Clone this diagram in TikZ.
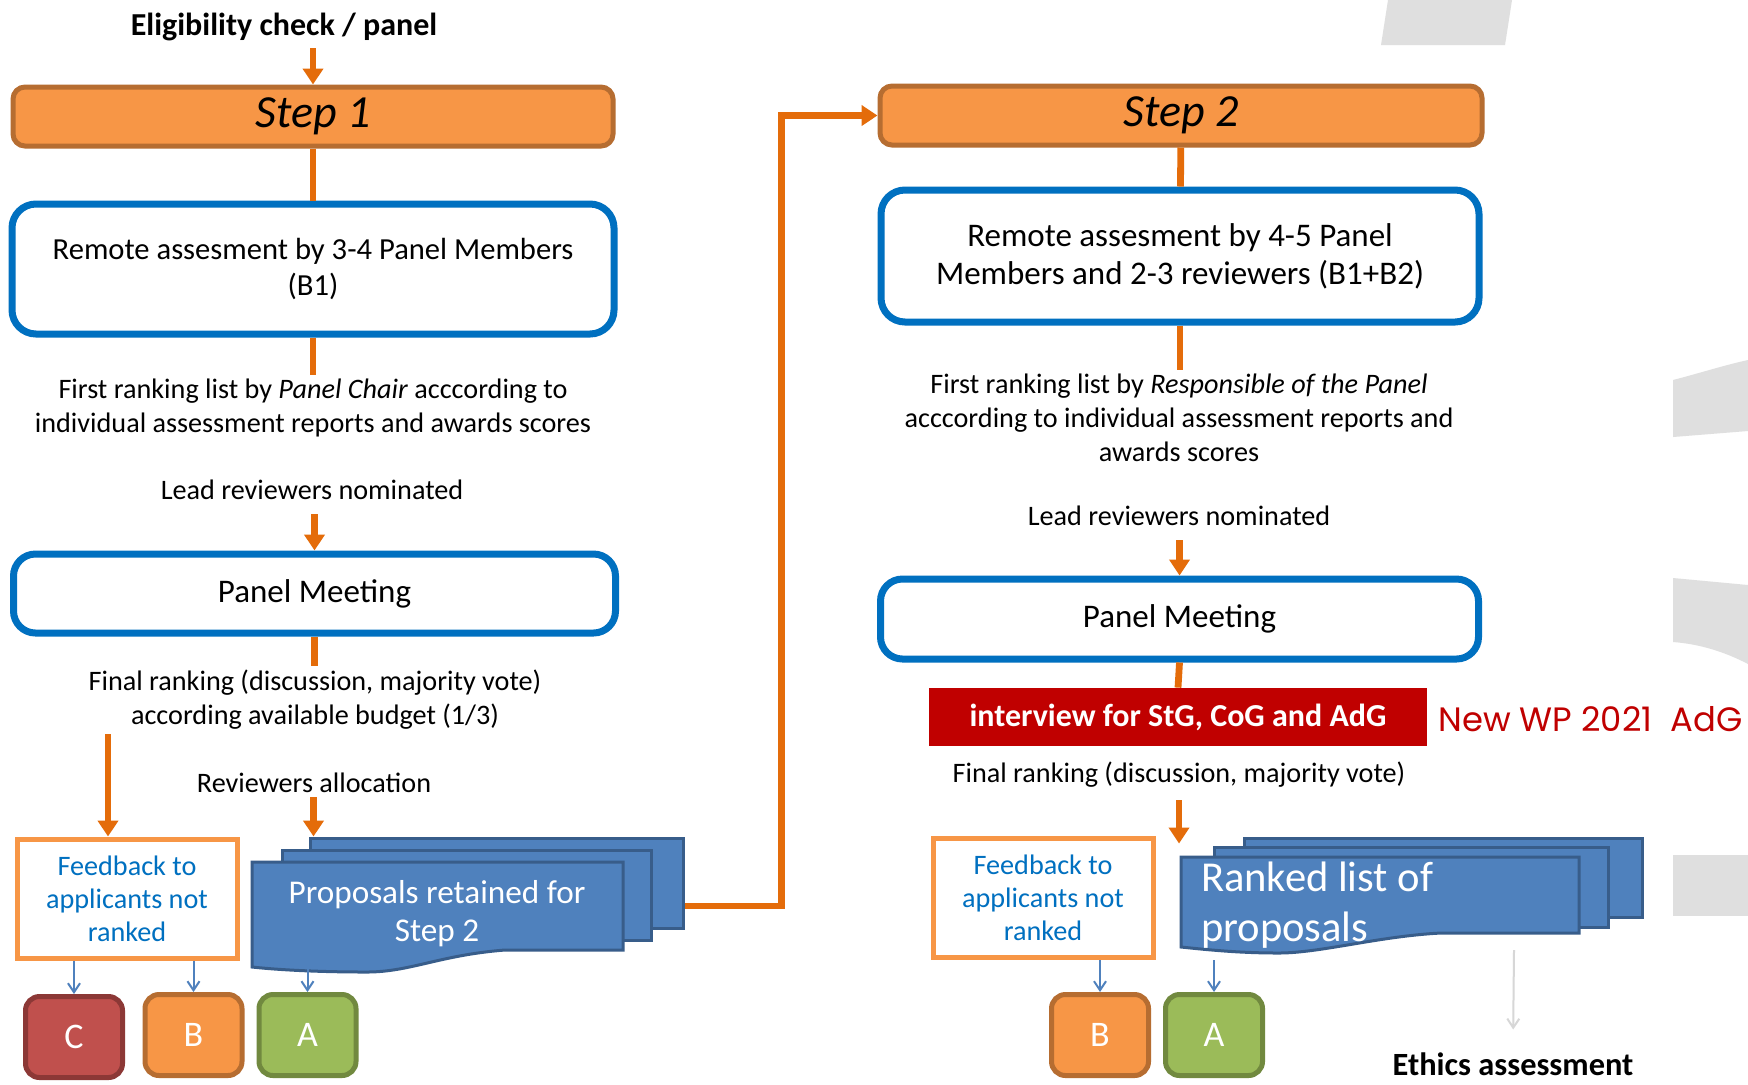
\documentclass[tikz,border=0pt]{standalone}
\usepackage{fontspec}
\setmainfont{Carlito}
\newfontfamily\wpfont{Poppins}
\usepackage{tikz}
\usetikzlibrary{positioning, arrows.meta}

\definecolor{linkorange}{HTML}{E46C0A}
\definecolor{steporange}{HTML}{F79646}
\definecolor{stepedge}{HTML}{B66D31}
\definecolor{boxblue}{HTML}{0070C0}
\definecolor{layerblue}{HTML}{4F81BD}
\definecolor{layeredge}{HTML}{385D8A}
\definecolor{arrowblue}{HTML}{4F81BD}
\definecolor{gradeC}{HTML}{C0504D}
\definecolor{gradeCedge}{HTML}{8C3836}
\definecolor{gradeA}{HTML}{9BBB59}
\definecolor{gradeAedge}{HTML}{71893F}
\definecolor{newred}{HTML}{C00000}
\definecolor{bggrey}{RGB}{223,223,223}
\definecolor{ethicsgrey}{RGB}{215,215,215}

\begin{document}
\begin{tikzpicture}[
    x=0.5pt, y=-0.5pt,
    every node/.style={font=\fontsize{14.1}{17}\selectfont},
    stepbox/.style={rectangle, draw=stepedge, fill=steporange, line width=2.5pt, rounded corners=6pt, minimum width=300pt, minimum height=29.5pt, font=\fontsize{23}{26}\selectfont\itshape},
    block/.style={rectangle, draw=boxblue, line width=3.5pt, rounded corners=12pt, align=center, minimum width=301pt},
    note/.style={align=center, inner sep=2pt},
    feedback/.style={rectangle, draw=steporange, fill=white, line width=2.5pt, align=center, text=boxblue, minimum width=110pt, minimum height=59.5pt, inner sep=1pt, font=\fontsize{14.1}{16.5}\selectfont},
    grade/.style={rectangle, rounded corners=7pt, line width=2.5pt, minimum width=48.5pt, minimum height=40.5pt, text=white, font=\fontsize{18}{20}\selectfont},
    layer/.style={draw=layeredge, fill=layerblue, line width=1.5pt},
    stacktext/.style={text=white, align=center, font=\fontsize{16.6}{19}\selectfont},
    arrow/.style={-{Triangle[width=10pt,length=8pt]}, draw=linkorange, line width=3.4pt},
    link/.style={draw=linkorange, line width=3.4pt},
    thinarrow/.style={-{Straight Barb[width=6pt,length=4.5pt]}, draw=arrowblue, line width=1pt}
]
\useasboundingbox (0,0) rectangle (1748,1084);
\fill[white] (0,0) rectangle (1748,1084);

% grey shapes behind
\fill[bggrey] (1388,0) -- (1512,0) -- (1505,45) -- (1381,45) -- cycle;
\fill[bggrey] (1673,380) .. controls (1700,373) and (1725,365) .. (1748,360) -- (1748,431) -- (1673,437) -- cycle;
\fill[bggrey] (1673,578) -- (1748,585) -- (1748,664) .. controls (1725,652) and (1700,644) .. (1673,642) -- cycle;
\fill[bggrey] (1673,855) rectangle (1748,916);

% Step 1
\node[font=\fontsize{16}{19}\selectfont\bfseries] (elig) at (284,27) {Eligibility check / panel};
\node[stepbox] (step1) at (313,116.5) {Step 1};
\node[block, minimum height=65pt, font=\fontsize{15.3}{17.8}\selectfont] (b1) at (313,269) {Remote assesment by 3-4 Panel Members\\(B1)};
\node[note] (rank1) at (313,408) {First ranking list by \textit{Panel Chair} acccording to\\individual assessment reports and awards scores};
\node[note] (lead1) at (312,490) {Lead reviewers nominated};
\node[block, minimum height=39.5pt, rounded corners=11pt, font=\fontsize{16.5}{19}\selectfont] (pm1) at (314.5,593.5) {Panel Meeting};
\node[note] (final1) at (315,700) {Final ranking (discussion, majority vote)\\according available budget (1/3)};
\node[note] (reviewers) at (314,783) {Reviewers allocation};
\node[feedback] (fb1) at (127,898.5) {Feedback to\\applicants not\\ranked};

% stack 1
\node[layer, minimum width=186.5pt, minimum height=45pt] (back1) at (496.5,883) {};
\node[layer, minimum width=184.5pt, minimum height=45pt] (mid1) at (466.5,895) {};
\draw[layer] (252,862) -- (623,862) -- (623,950) -- (505,950) .. controls (440,955) and (410,972) .. (367,972) .. controls (320,972) and (280,970) .. (252,967) -- cycle;
\node[stacktext] (front1) at (437,914) {Proposals retained for\\Step 2};

\node[grade, fill=gradeC, draw=gradeCedge] (C) at (74,1037) {C};
\node[grade, fill=steporange, draw=stepedge] (B) at (193.5,1035) {B};
\node[grade, fill=gradeA, draw=gradeAedge] (A) at (307.5,1035) {A};

% Step 2
\node[stepbox, minimum width=301pt] (step2) at (1181,115.5) {Step 2};
\node[block, minimum width=299pt, minimum height=66pt, font=\fontsize{16.5}{19}\selectfont] (b2) at (1180,256) {Remote assesment by 4-5 Panel\\Members and 2-3 reviewers (B1+B2)};
\node[note] (rank2) at (1179,418) {First ranking list by \textit{Responsible of the Panel}\\acccording to individual assessment reports and\\awards scores};
\node[note] (lead2) at (1179,516) {Lead reviewers nominated};
\node[block, minimum width=299pt, minimum height=40pt, rounded corners=11pt, font=\fontsize{16.5}{19}\selectfont] (pm2) at (1179.5,619) {Panel Meeting};
\node[rectangle, fill=newred, text=white, minimum width=249pt, minimum height=29pt, font=\fontsize{16}{19}\selectfont\bfseries] (interview) at (1178,717) {interview for StG, CoG and AdG};
\node[anchor=west, text=newred, inner sep=0pt, font=\wpfont\fontsize{16.9}{19}\selectfont] (newwp) at (1438,719) {New WP 2021\ \ AdG};
\node[note] (final2) at (1179,775) {Final ranking (discussion, majority vote)};
\node[feedback] (fb2) at (1043,898) {Feedback to\\applicants not\\ranked};

% stack 2
\node[layer, minimum width=199pt, minimum height=39.5pt] (back2) at (1443,877.5) {};
\node[layer, minimum width=197pt, minimum height=40pt] (mid2) at (1411,887) {};
\draw[layer] (1181,857) -- (1579,857) -- (1579,933) -- (1441,933) .. controls (1380,936) and (1320,953) .. (1279,953) .. controls (1240,953) and (1210,950) .. (1181,947) -- cycle;
\node[anchor=west, text=white, align=left, font=\fontsize{21.3}{25}\selectfont] (front2) at (1194,905) {Ranked list of\\proposals};

\node[grade, fill=steporange, draw=stepedge] (B2) at (1100,1035) {B};
\node[grade, fill=gradeA, draw=gradeAedge] (A2) at (1214,1035) {A};

\node[font=\fontsize{16.2}{19}\selectfont\bfseries] (ethics) at (1513,1064) {Ethics assessment};
\coordinate (ethicsin) at (1514,950);

% Arrows step 1
\draw[arrow] (step1.north |- elig.south) -- (step1.north);
\draw[link] (step1) -- (b1);
\draw[link] (b1.south) -- (b1.south |- rank1.north);
\draw[arrow, shorten <=5pt] (lead1.south -| pm1.north) -- (pm1.north);
\draw[link] (pm1.south) -- (pm1.south |- final1.north);
\draw[arrow] ([xshift=-9.5pt]fb1.north |- final1.south) -- ([xshift=-9.5pt]fb1.north);
\draw[arrow] (reviewers.south -| back1.north west) ++(2.5pt,0) -- ([xshift=2.5pt]back1.north west);
\draw[arrow] ([yshift=-11.5pt]back1.east) -- ++(97,0) |- (step2.west);
\draw[thinarrow] (C.north |- fb1.south) -- (C.north);
\draw[thinarrow] (B.north |- fb1.south) -- (B.north);
\draw[thinarrow] (A.north |- fb1.south) -- (A.north);

% Arrows step 2
\draw[link] (step2) -- (b2);
\draw[link] (b2.south) -- (b2.south |- rank2.north);
\draw[arrow, shorten <=5pt] (lead2.south -| pm2.north) -- (pm2.north);
\draw[link] (pm2.south) -- (interview.north);
\draw[arrow, shorten <=4pt] (final2.south) -- ([yshift=-3.5pt]final2.south |- back2.north);
\draw[thinarrow] (B2.north |- fb2.south) -- (B2.north);
\draw[thinarrow] (A2.north |- fb2.south) -- (A2.north);
\draw[thinarrow, draw=ethicsgrey, shorten >=8pt] (ethicsin) -- (ethics.north);

\end{tikzpicture}
\end{document}
